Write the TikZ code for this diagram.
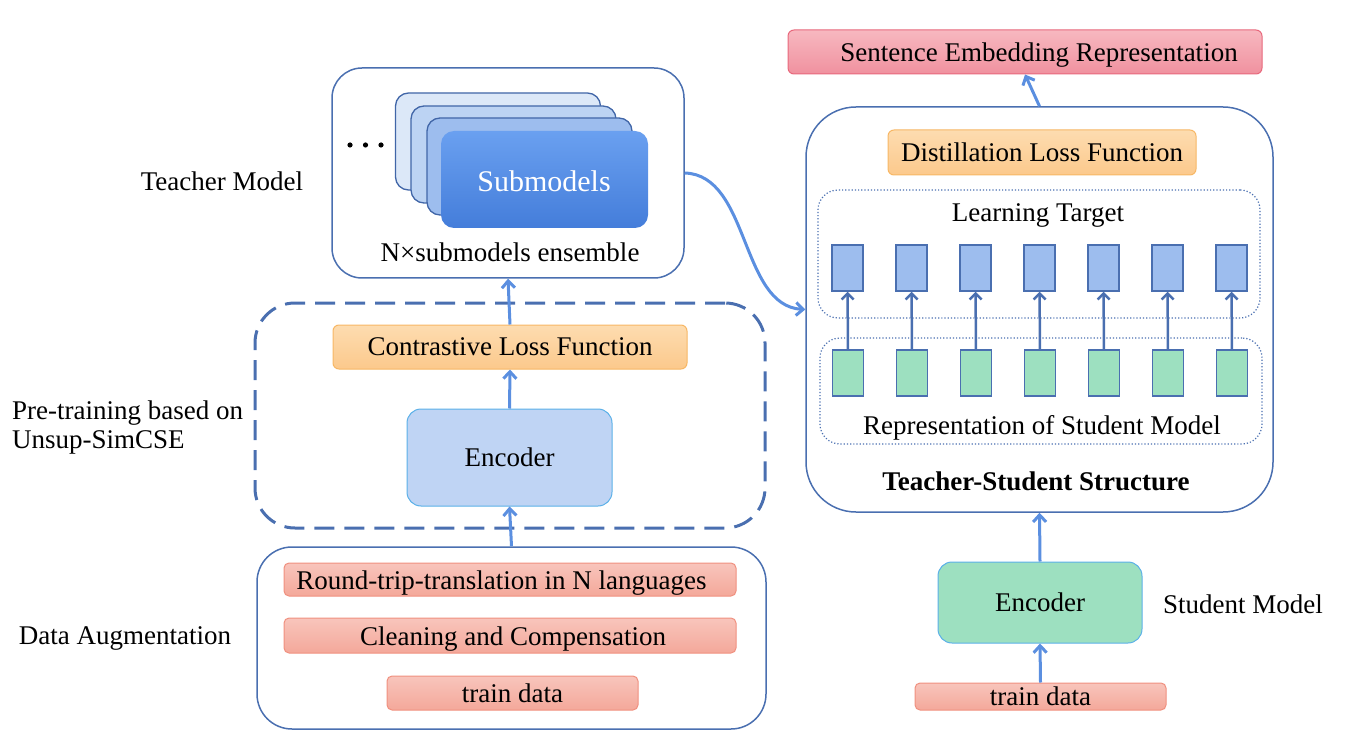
\documentclass[tikz,border=0pt]{standalone}
\usepackage{fontspec}
\setmainfont{Liberation Serif}
\usetikzlibrary{arrows.meta}
\definecolor{cborder}{HTML}{4A6FB0}
\definecolor{carrow}{HTML}{5B8FE0}
\definecolor{seT}{HTML}{F7B8C0}
\definecolor{seB}{HTML}{F0919F}
\definecolor{seD}{HTML}{E8687C}
\definecolor{orT}{HTML}{FDDCB0}
\definecolor{orB}{HTML}{FCC98C}
\definecolor{orD}{HTML}{F7B765}
\definecolor{encTfill}{HTML}{BFD4F4}
\definecolor{encD}{HTML}{5BB0E8}
\definecolor{encSfill}{HTML}{9DE0C0}
\definecolor{tgtfill}{HTML}{9DBDEE}
\definecolor{pkT}{HTML}{F8C5BC}
\definecolor{pkB}{HTML}{F4A89A}
\definecolor{pkD}{HTML}{F0907F}
\definecolor{cardA}{HTML}{DCE8F8}
\definecolor{cardB}{HTML}{BCD3F3}
\definecolor{cardC}{HTML}{9DBDEE}
\definecolor{frontT}{HTML}{6AA0F0}
\definecolor{frontB}{HTML}{447DDA}
\definecolor{cardD}{HTML}{4166A8}
\begin{document}
\begin{tikzpicture}[x=1pt,y=-1pt,font=\fontsize{27}{29}\selectfont,
  pinkbox/.style={draw=pkD, top color=pkT, bottom color=pkB, rounded corners=5pt, line width=1pt, inner sep=0pt, text depth=0pt},
  sebox/.style={draw=seD, top color=seT, bottom color=seB, rounded corners=6pt, line width=1pt, inner sep=0pt, text depth=0pt},
  orbox/.style={draw=orD, top color=orT, bottom color=orB, rounded corners=6pt, line width=1pt, inner sep=0pt, text depth=0pt},
  encbox/.style={draw=encD, rounded corners=14pt, line width=1pt, inner sep=0pt, text depth=0pt},
  container/.style={draw=cborder, line width=1.5pt, inner sep=0pt},
  dotbox/.style={draw=cborder, dotted, line width=1.2pt, rounded corners=20pt, inner sep=0pt},
  cell/.style={draw=cborder, line width=1.5pt, minimum width=31pt, minimum height=46pt, inner sep=0pt},
  card/.style={draw=cardD, line width=1.3pt, rounded corners=13pt, minimum width=205pt, minimum height=97pt, inner sep=0pt},
  arr/.style={draw=carrow, line width=3pt, -{Straight Barb[length=7pt,width=13pt]}},
  inarr/.style={draw=cborder, line width=2.5pt, -{Straight Barb[length=6pt,width=12pt]}},
  txt/.style={inner sep=0pt, text depth=0pt}]
\useasboundingbox (0,0) rectangle (1362,735);

% ---------- right side ----------
\node[sebox, minimum width=474pt, minimum height=44pt] (ser) at (1025,52) {};
\node[txt] (serlabel) at (1039,52) {Sentence Embedding Representation};
\node[container, rounded corners=50pt, minimum width=467pt, minimum height=405pt] (ts) at (1039.5,309.5) {};
\node[orbox, minimum width=308pt, minimum height=45pt] (dist) at (1042,152.5) {Distillation Loss Function};
\node[dotbox, minimum width=442pt, minimum height=128pt] (ltbox) at (1039,254) {};
\node[txt] (ltlabel) at (1038,213) {Learning Target};
\node[dotbox, minimum width=442pt, minimum height=106pt] (rsbox) at (1041,391) {};
\node[txt] (rslabel) at (1042,425) {Representation of Student Model};
\foreach \k in {0,...,6}{
  \node[cell, fill=tgtfill] (t\k) at ({847.5+64*\k},268) {};
  \node[cell, fill=encSfill] (s\k) at ({848+64*\k},373) {};
  \draw[inarr] (s\k) -- (t\k);
}
\node[txt, font=\fontsize{27}{29}\selectfont\bfseries] (tslabel) at (1036,481) {Teacher-Student Structure};
\draw[arr] (ts.north) -- (ser.south);

\node[encbox, fill=encSfill, minimum width=204pt, minimum height=81pt] (se) at (1040,602.5) {Encoder};
\draw[arr] (se.north) -- (ts.south);
\node[pinkbox, minimum width=251pt, minimum height=27pt] (td2) at (1040.5,696.5) {train data};
\draw[arr] (td2.north) -- (se.south);
\node[txt] (smlabel) at (1243,604) {Student Model};

% ---------- left side ----------
\node[container, rounded corners=30pt, minimum width=352pt, minimum height=210pt] (tm) at (508,173) {};
\node[card, fill=cardA] (c1) at (498,141.5) {};
\node[card, fill=cardB] (c2) at (513.5,154.5) {};
\node[card, fill=cardC] (c3) at (529.5,166.5) {};
\node[card, top color=frontT, bottom color=frontB, draw=none, minimum width=207pt] (front) at (544.5,179.5) {};
\node[txt, text=white, font=\fontsize{30}{32}\selectfont] (sublabel) at (544,181) {Submodels};
\foreach \i in {0,1,2}{\fill (350+15.5*\i,145) circle (2.6pt);}
\node[txt] (ens) at (510,252) {N×submodels ensemble};
\node[txt] (tmlabel) at (222,181) {Teacher Model};
\draw[arr] (tm.east) .. controls (750,175) and (740,306) .. (ts.west);

\node[draw=cborder, line width=3pt, dash pattern=on 20pt off 10pt, rounded corners=40pt, minimum width=510pt, minimum height=225pt, inner sep=0pt] (pt) at (510,415.5) {};
\node[orbox, minimum width=354pt, minimum height=44pt] (con) at (510,347) {Contrastive Loss Function};
\node[encbox, fill=encTfill, minimum width=205pt, minimum height=97pt] (enc) at (509.5,457.5) {Encoder};
\draw[arr] (enc.north) -- (con.south);
\draw[arr] (con.north) -- (tm.south);
\node[inner sep=0pt, align=left, anchor=west] (ptlabel) at (12,427.5) {Pre-training based on\\Unsup-SimCSE};

\node[container, rounded corners=35pt, minimum width=509pt, minimum height=182pt] (da) at (511.5,638) {};
\draw[arr] (da.north) -- (enc.south);
\node[pinkbox, minimum width=452pt, minimum height=33pt] (rt) at (510,579.5) {};
\node[txt] (rtlabel) at (501.5,580) {Round-trip-translation in N languages};
\node[pinkbox, minimum width=452pt, minimum height=35pt] (cl) at (510,635.5) {};
\node[txt] (cllabel) at (513,636) {Cleaning and Compensation};
\node[pinkbox, minimum width=251pt, minimum height=34pt] (td1) at (512.5,693) {train data};
\node[txt] (dalabel) at (125,636) {Data Augmentation};
\end{tikzpicture}
\end{document}
